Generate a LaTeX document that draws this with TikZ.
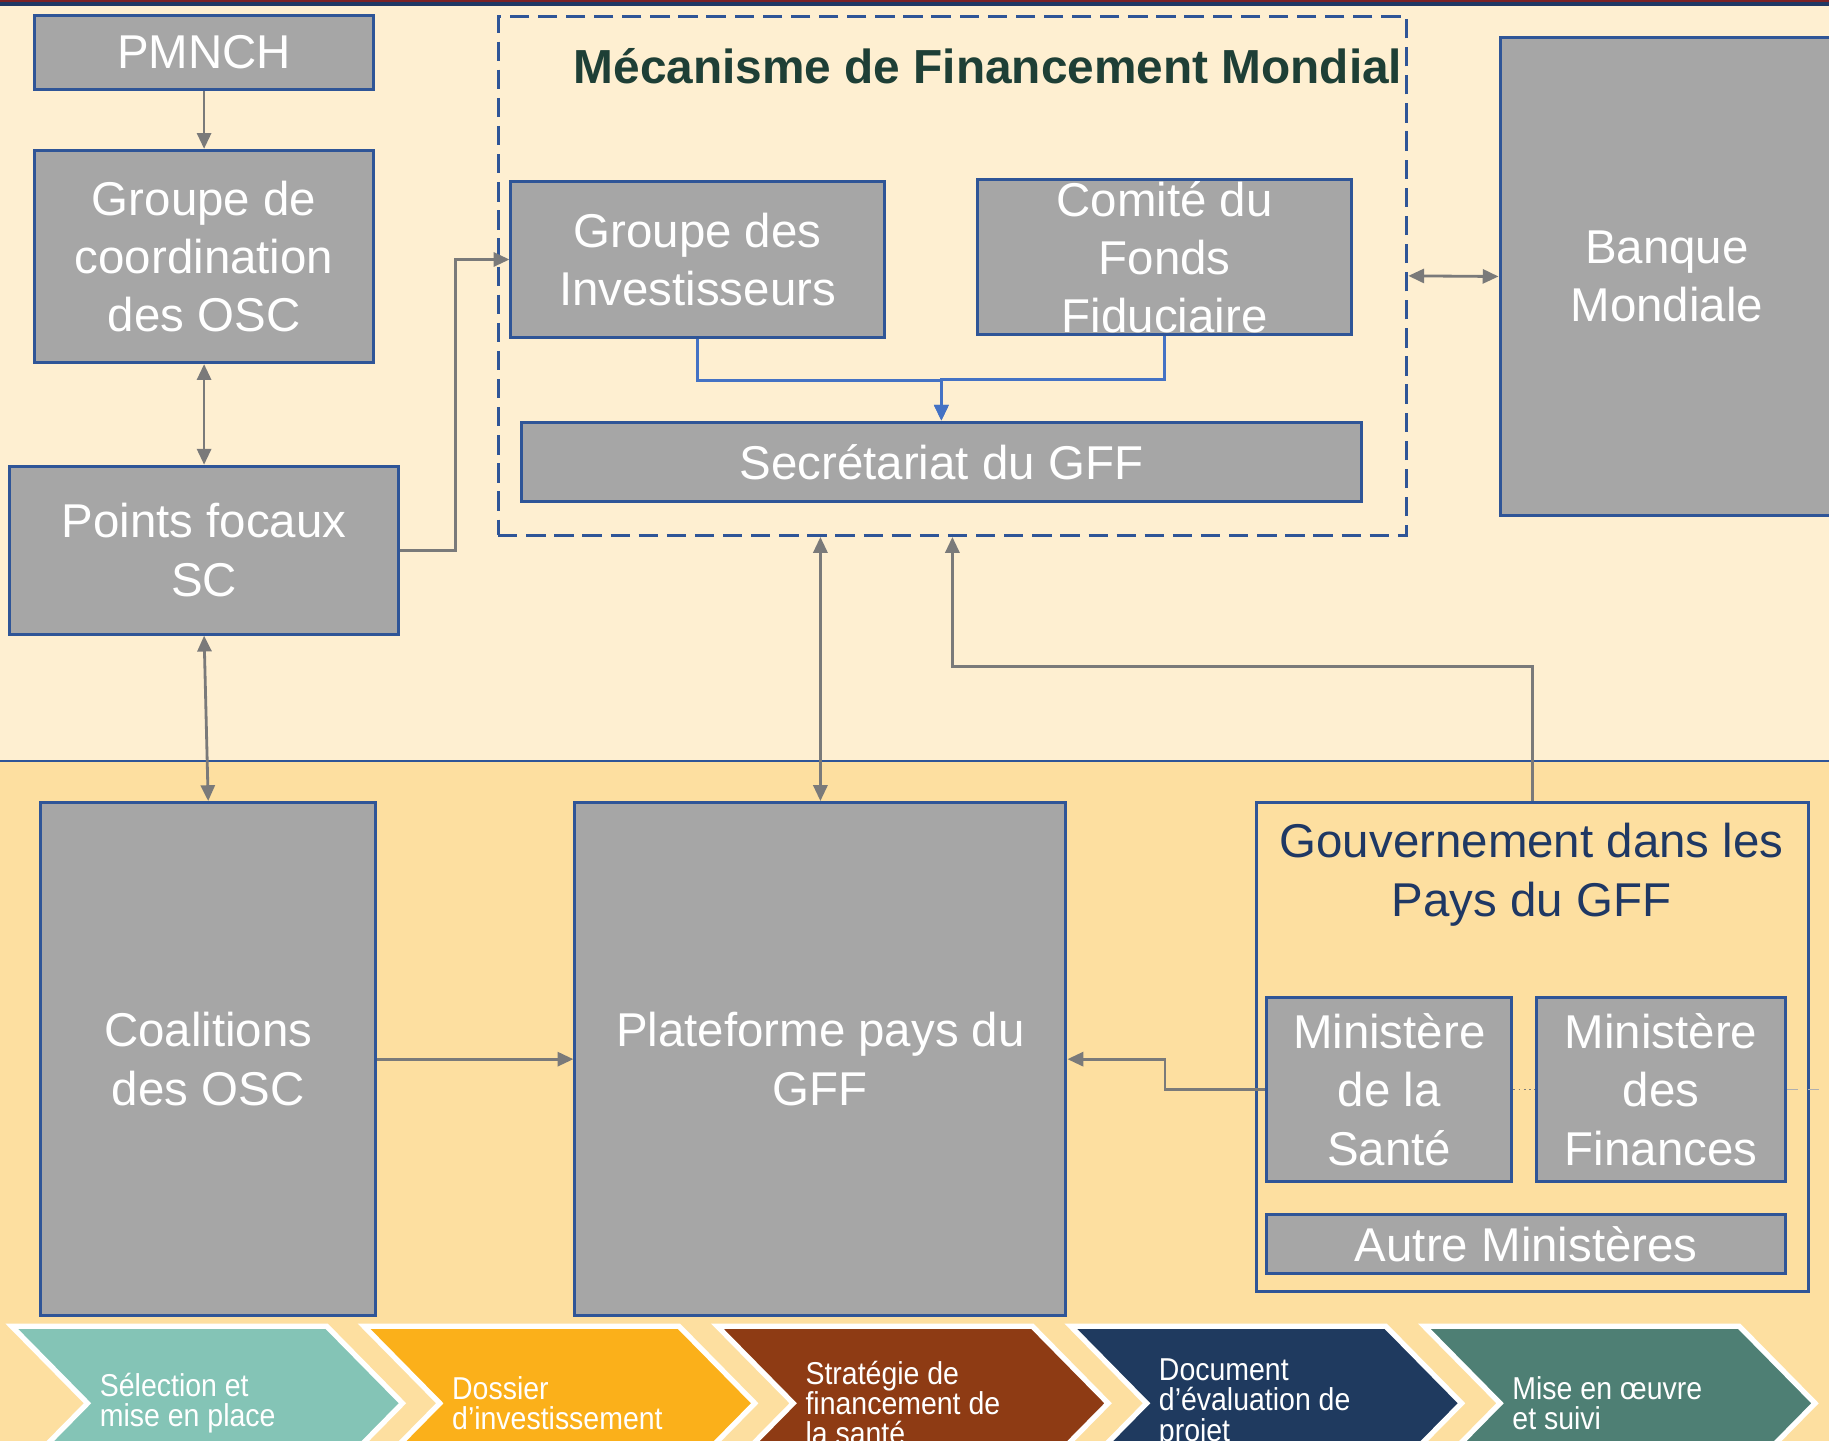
\documentclass[tikz,border=0pt]{standalone}
\usepackage{fontspec}
\setmainfont{Liberation Sans}
\newfontfamily\narrowfont[FakeStretch=0.9]{Liberation Sans}
\usetikzlibrary{positioning, arrows.meta}
\definecolor{bgtop}{HTML}{FEEFD1}
\definecolor{bgbottom}{HTML}{FDDFA0}
\definecolor{boxgray}{HTML}{A6A6A6}
\definecolor{boxblue}{HTML}{2F5597}
\definecolor{linkgray}{HTML}{7A7A7A}
\definecolor{linkblue}{HTML}{4472C4}
\definecolor{titlegreen}{HTML}{1E3F36}
\definecolor{govnavy}{HTML}{1F3864}
\definecolor{topred}{HTML}{7B2226}
\definecolor{chevA}{HTML}{84C4B6}
\definecolor{chevB}{HTML}{FBB01A}
\definecolor{chevC}{HTML}{8E3B14}
\definecolor{chevD}{HTML}{1F3A5F}
\definecolor{chevE}{HTML}{4E7F74}
\tikzset{
    block/.style={
        draw = boxblue, fill = boxgray, line width = 0.85pt,
        inner sep = 0pt, align = center, text = white,
        font = \fontsize{13.5}{16.6}\selectfont
    },
    blocktext/.style = {text = white, align = center, inner sep = 0pt,
        font = \fontsize{13.5}{16.6}\selectfont},
    frame/.style = {draw = boxblue, line width = 0.9pt, dash pattern = on 5.5pt off 2.5pt},
    group/.style = {draw = boxblue, line width = 0.85pt},
    grouptitle/.style = {text = govnavy, align = center, inner sep = 0pt,
        font = \fontsize{13.5}{16.6}\selectfont},
    title/.style = {text = titlegreen, inner sep = 0pt,
        font = \bfseries\fontsize{13.6}{16}\selectfont},
    phasetext/.style = {text = white, align = left, inner sep = 0pt,
        font = \narrowfont\fontsize{9}{8.6}\selectfont},
    conn/.style = {draw = linkgray, line width = 0.8pt, -{Triangle[length=4.5pt, width=4pt]}},
    biconn/.style = {conn, {Triangle[length=4.5pt, width=4pt]}-{Triangle[length=4.5pt, width=4pt]}},
    blueconn/.style = {draw = linkblue, line width = 0.9pt, -{Triangle[length=4.5pt, width=4pt]}}
}

\begin{document}
\begin{tikzpicture}

    \useasboundingbox (0,0) rectangle (18.291,-14.406);
    \clip (0,0) rectangle (18.291,-14.406);

    % background
    \fill[bgtop] (0,0) rectangle (18.291,-7.606);
    \fill[bgbottom] (0,-7.606) rectangle (18.291,-14.406);
    \draw[boxblue, line width=0.6pt] (0,-7.606) -- (18.291,-7.606);
    \fill[topred] (0,0) rectangle (18.291,-0.02);
    \fill[govnavy] (0,-0.02) rectangle (18.291,-0.06);

    % left column
    \node[block, minimum width=3.383cm, minimum height=0.747cm] (pmnch) at (2.041,-0.525) {PMNCH};
    \node[block, below=0.575 of pmnch, minimum width=3.383cm, minimum height=2.123cm] (coord) {Groupe de\\coordination\\des OSC};
    \node[block, below=1.006 of coord, minimum width=3.884cm, minimum height=1.680cm] (focaux) {Points focaux\\SC};

    % global facility
    \node[frame, minimum width=9.087cm, minimum height=5.191cm] (gfm) at (9.5245,-2.7585) {};
    \node[title] (gfmtitle) at (9.880,-0.665) {Mécanisme de Financement Mondial};
    \node[block, minimum width=3.733cm, minimum height=1.551cm] (invest) at (6.976,-2.595) {Groupe des\\Investisseurs};
    \node[block, right=0.903 of invest, minimum width=3.744cm, minimum height=1.551cm,
        yshift=0.023cm, label={[blocktext]center:{Comité du\\Fonds\\Fiduciaire}}] (comite) {};
    \node[block, minimum width=8.399cm, minimum height=0.793cm] (secr) at (9.414,-4.619) {Secrétariat du GFF};
    \node[block, minimum width=3.336cm, minimum height=4.783cm] (banque) at (16.669,-2.765) {Banque\\Mondiale};

    % country level
    \node[block, minimum width=3.348cm, minimum height=5.133cm] (coal) at (2.082,-10.592) {Coalitions\\des OSC};
    \node[block, right=1.963 of coal, minimum width=4.911cm, minimum height=5.133cm] (plat) {Plateforme pays du\\GFF};
    \node[group, minimum width=5.518cm, minimum height=4.888cm] (gouv) at (15.322,-10.469) {};
    \node[grouptitle] (gouvtitle) at (15.316,-8.749) {Gouvernement dans les\\Pays du GFF};
    \node[block, minimum width=2.450cm, minimum height=1.843cm] (sante) at (13.893,-10.895) {Ministère\\de la\\Santé};
    \node[block, right=0.215 of sante, minimum width=2.496cm, minimum height=1.843cm] (fin) {Ministère\\des\\Finances};
    \node[block, minimum width=5.191cm, minimum height=0.595cm] (autre) at (15.264,-12.441) {Autre Ministères};

    \draw[conn] (pmnch) -- (coord);
    \draw[biconn] (coord) -- (focaux);
    \draw[conn] (focaux.east) -- ++(0.56,0) |- (invest.west);
    \draw[biconn] (focaux.south) -- (coal.north);
    \draw[biconn] (gfm.east) -- (banque.west);
    \draw[biconn] (gfm.south -| plat.north) -- (plat.north);
    \draw[conn] (gouv.north) -- ++(0,1.343) -| (gfm.south);
    \draw[conn] (coal.east) -- (plat.west);
    \draw[conn] (sante.west) -- ++(-1.003,0) |- (plat.east);
    \draw[blueconn] (invest.south) -- ++(0,-0.42) -| (secr.north);
    \draw[blueconn] (comite.south) -- ++(0,-0.432) -| (secr.north);
    \draw[linkgray, densely dotted, line width=0.5pt] (sante.east) -- (fin.west);
    \draw[linkgray!60, dashed, line width=0.5pt] (fin.east) -- ++(0.6,0);

    % phases
    \foreach \x/\col/\txt [count=\i] in {0.117/chevA/{Sélection et\\mise en place},
            3.640/chevB/{Dossier\\d’investissement},
            7.174/chevC/{Stratégie de\\financement de\\la santé},
            10.708/chevD/{Document\\d’évaluation de\\projet},
            14.243/chevE/{Mise en œuvre\\et suivi}}{
        \fill[\col, draw=white, line width=1.5pt] (\x,-13.263) -- ++(3.150,0) -- ++(0.758,-0.770)
            -- ++(-0.758,-0.770) -- ++(-3.150,0) -- ++(0.758,0.770) -- cycle;
        \node[phasetext, anchor=west] (phase\i) at (\x+0.875,-14.033) {\txt};
    }

\end{tikzpicture}
\end{document}
